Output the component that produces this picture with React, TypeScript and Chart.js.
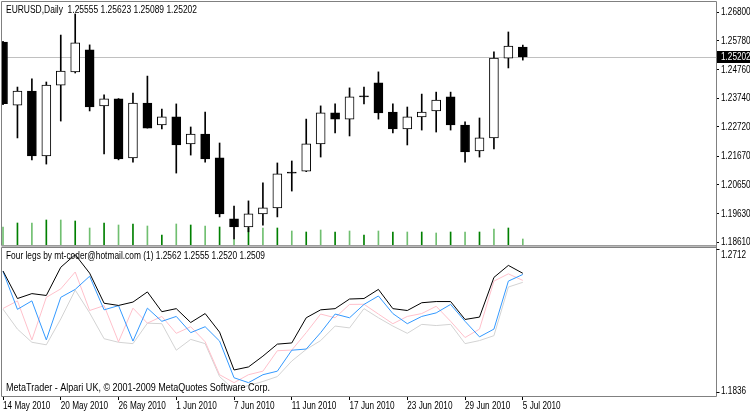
import React, { useEffect, useRef } from 'react';
import { Chart, registerables } from 'chart.js';
Chart.register(...registerables);

// ---------- data ----------
const symbolTitle = 'EURUSD,Daily';
const indicatorTitle = 'Four legs by mt-coder@hotmail.com (1) 1.2562 1.2555 1.2520 1.2509';
const copyrightText = 'MetaTrader - Alpari UK, \u00A9 2001-2009 MetaQuotes Software Corp.';

const dates = [
  '14 May 2010', '17 May 2010', '18 May 2010', '19 May 2010', '20 May 2010', '21 May 2010',
  '24 May 2010', '25 May 2010', '26 May 2010', '27 May 2010', '28 May 2010', '31 May 2010',
  '1 Jun 2010', '2 Jun 2010', '3 Jun 2010', '4 Jun 2010', '7 Jun 2010', '8 Jun 2010',
  '9 Jun 2010', '10 Jun 2010', '11 Jun 2010', '14 Jun 2010', '15 Jun 2010', '16 Jun 2010',
  '17 Jun 2010', '18 Jun 2010', '21 Jun 2010', '22 Jun 2010', '23 Jun 2010', '24 Jun 2010',
  '25 Jun 2010', '28 Jun 2010', '29 Jun 2010', '30 Jun 2010', '1 Jul 2010', '2 Jul 2010',
  '5 Jul 2010',
];

const opens = [
  1.2573, 1.2349, 1.2399, 1.2168, 1.2420, 1.2467, 1.2545, 1.2346, 1.2371, 1.2161,
  1.2356, 1.2278, 1.2307, 1.2211, 1.2246, 1.2161, 1.1944, 1.1915, 1.1962, 1.1983,
  1.2107, 1.2114, 1.2211, 1.2321, 1.2299, 1.2378, 1.2428, 1.2324, 1.2264, 1.2307,
  1.2328, 1.2378, 1.2278, 1.2186, 1.2232, 1.2516, 1.25555,
];
const highs = [
  1.2576, 1.2413, 1.2442, 1.2431, 1.2598, 1.2673, 1.2563, 1.2385, 1.2372, 1.2392,
  1.2452, 1.2335, 1.2353, 1.2271, 1.2324, 1.2214, 1.1990, 1.2008, 1.2072, 1.2143,
  1.2150, 1.2299, 1.2346, 1.2353, 1.2410, 1.2413, 1.2467, 1.2353, 1.2342, 1.2388,
  1.2395, 1.2395, 1.2289, 1.2303, 1.2538, 1.2609, 1.25623,
];
const lows = [
  1.2350, 1.2232, 1.2154, 1.2139, 1.2292, 1.2463, 1.2328, 1.2175, 1.2154, 1.2146,
  1.2267, 1.2264, 1.2107, 1.2171, 1.2146, 1.1951, 1.1873, 1.1898, 1.1922, 1.1951,
  1.2043, 1.2112, 1.2164, 1.2250, 1.2239, 1.2353, 1.2299, 1.2250, 1.2207, 1.2260,
  1.2253, 1.2260, 1.2146, 1.2164, 1.2193, 1.2481, 1.25089,
];
const closes = [
  1.2354, 1.2399, 1.2168, 1.2420, 1.2470, 1.2570, 1.2342, 1.2371, 1.2157, 1.2356,
  1.2267, 1.2307, 1.2207, 1.2246, 1.2157, 1.1962, 1.1915, 1.1962, 1.1983, 1.2104,
  1.2108, 1.2211, 1.2321, 1.2299, 1.2378, 1.2379, 1.2321, 1.2264, 1.2307, 1.2324,
  1.2367, 1.2278, 1.2182, 1.2232, 1.2516, 1.2559, 1.25202,
];
const volumes = [
  18000, 22000, 22000, 25000, 25000, 24000, 17000, 22000, 20000, 21000,
  19000, 10000, 21000, 20000, 19000, 18000, 6000, 17000, 17000, 17000,
  14000, 13000, 15000, 13000, 14000, 10000, 14000, 13000, 13000, 13000,
  12000, 13000, 13000, 13000, 16000, 17000, 6000,
];

const priceTicks = [1.268, 1.2578, 1.2476, 1.2374, 1.2272, 1.2167, 1.2065, 1.1963, 1.1861];
const dateTickIndex = [0, 4, 8, 12, 16, 20, 24, 28, 32, 36];
const lastPrice = 1.25202;
const indicatorMax = 1.2712;
const indicatorMin = 1.1836;

// ---------- view settings ----------
const X_MIN = -0.07;
const X_MAX = 49.38;
const PRICE_MIN = 1.18511;
const PRICE_MAX = 1.27156;
const VOL_MAX = 243000;
const DOJI_EPS = 0.0002;
const TEXT_FONT = "10px 'Liberation Sans', Arial, sans-serif";
const SQUEEZE = 0.82;
const FRAME = '#808080';

function hLine(ctx: CanvasRenderingContext2D, x1: number, x2: number, y: number) {
  ctx.beginPath();
  ctx.moveTo(x1, y);
  ctx.lineTo(x2, y);
  ctx.stroke();
}
function vLine(ctx: CanvasRenderingContext2D, x: number, y1: number, y2: number) {
  ctx.beginPath();
  ctx.moveTo(x, y1);
  ctx.lineTo(x, y2);
  ctx.stroke();
}
// narrow text: draw horizontally squeezed
function narrowText(ctx: CanvasRenderingContext2D, text: string, x: number, y: number) {
  ctx.save();
  ctx.translate(x, y);
  ctx.scale(SQUEEZE, 1);
  ctx.textAlign = 'left';
  ctx.textBaseline = 'middle';
  ctx.fillText(text, 0, 0);
  ctx.restore();
}

const mainDecor = {
  id: 'mainDecor',
  beforeDatasetsDraw(chart: any) {
    const { ctx, chartArea, scales } = chart;
    const y = Math.round(scales.y.getPixelForValue(lastPrice)) + 0.5;
    ctx.save();
    ctx.strokeStyle = '#c0c0c0';
    ctx.lineWidth = 1;
    hLine(ctx, chartArea.left, chartArea.right, y);
    ctx.restore();
  },
  afterDraw(chart: any) {
    const { ctx, chartArea, scales } = chart;
    ctx.save();
    ctx.strokeStyle = FRAME;
    ctx.lineWidth = 1;
    const l = chartArea.left - 0.5, r = chartArea.right + 0.5, t = chartArea.top - 0.5, b = chartArea.bottom + 0.5;
    hLine(ctx, l, r, t);
    vLine(ctx, l, t, b);
    vLine(ctx, r, t, b);
    hLine(ctx, l, r, b);
    // title
    ctx.fillStyle = '#000';
    ctx.font = TEXT_FONT;
    ctx.textBaseline = 'middle';
    ctx.textAlign = 'left';
    const n = opens.length - 1;
    const title = `${symbolTitle}  ${opens[n].toFixed(5)} ${highs[n].toFixed(5)} ${lows[n].toFixed(5)} ${closes[n].toFixed(5)}`;
    ctx.fillText(title, 6, 10, 191);
    // price scale labels
    scales.y.ticks.forEach((t: any) => {
      const py = scales.y.getPixelForValue(t.value);
      narrowText(ctx, Number(t.value).toFixed(5), chartArea.right + 5, py + 0.5);
    });
    // current price box
    const py = Math.round(scales.y.getPixelForValue(lastPrice));
    ctx.fillStyle = '#000';
    ctx.fillRect(chartArea.right + 1, py - 6, 750 - chartArea.right - 1, 12);
    ctx.fillStyle = '#fff';
    narrowText(ctx, lastPrice.toFixed(5), chartArea.right + 5, py + 0.5);
    ctx.restore();
  },
};

const indDecor = {
  id: 'indDecor',
  afterDraw(chart: any) {
    const { ctx, chartArea, scales } = chart;
    ctx.save();
    const l = chartArea.left - 0.5, r = chartArea.right + 0.5, t = chartArea.top - 0.5, b = chartArea.bottom + 0.5;
    // separator band between panes
    ctx.fillStyle = '#b8b8b8';
    ctx.fillRect(l, t - 2, r - l, 2);
    ctx.strokeStyle = FRAME;
    ctx.lineWidth = 1;
    hLine(ctx, l, r, t);
    vLine(ctx, l, t, b);
    vLine(ctx, r, t - 3, b);
    hLine(ctx, l, r, b);
    // side ticks
    ctx.strokeStyle = '#000';
    hLine(ctx, r, r + 3, t + 2);
    hLine(ctx, r, r + 3, b - 4);
    // texts
    ctx.fillStyle = '#000';
    ctx.font = TEXT_FONT;
    ctx.textBaseline = 'middle';
    ctx.textAlign = 'left';
    ctx.fillText(indicatorTitle, 6, 12, 259);
    ctx.fillText(copyrightText, 6, 144, 264);
    narrowText(ctx, indicatorMax.toFixed(4), chartArea.right + 5, 11);
    narrowText(ctx, indicatorMin.toFixed(4), chartArea.right + 5, 147);
    // date labels along the time axis
    scales.x.ticks.forEach((tk: any) => {
      const px = scales.x.getPixelForValue(tk.value);
      const label = dates[Math.round(Number(tk.value))] ?? '';
      narrowText(ctx, label, px, chartArea.bottom + 10);
    });
    ctx.restore();
  },
};

export default function App() {
  const mainRef = useRef<HTMLCanvasElement>(null);
  const indRef = useRef<HTMLCanvasElement>(null);

  useEffect(() => {
    const idx = dates.map((_, i) => i);

    const mainChart = new Chart(mainRef.current as HTMLCanvasElement, {
      type: 'bar',
      data: {
        datasets: [
          {
            label: 'Volume',
            data: idx.map((i) => ({ x: i, y: volumes[i] })) as any,
            yAxisID: 'yv',
            backgroundColor: idx.map((i) => (i % 2 === 0 ? '#70bf70' : '#008000')),
            barThickness: 1,
            grouped: false,
            order: 5,
          },
          {
            label: 'Wick',
            data: idx.map((i) => ({ x: i, y: [lows[i], highs[i]] })) as any,
            yAxisID: 'y',
            backgroundColor: '#000',
            barThickness: 1,
            grouped: false,
            order: 4,
          },
          {
            label: 'Body',
            data: idx.map((i) => ({
              x: i,
              y: [Math.min(opens[i], closes[i]), Math.max(opens[i], closes[i])],
            })) as any,
            yAxisID: 'y',
            backgroundColor: idx.map((i) =>
              closes[i] >= opens[i] && Math.abs(closes[i] - opens[i]) > DOJI_EPS ? '#ffffff' : '#000000'
            ),
            borderColor: '#000',
            borderWidth: 1,
            borderSkipped: false,
            barThickness: 9,
            minBarLength: 1,
            grouped: false,
            order: 3,
          },
        ],
      },
      options: {
        responsive: false,
        animation: false,
        devicePixelRatio: 1,
        events: [],
        layout: { padding: { left: 2, top: 2, right: 0, bottom: 5 } },
        plugins: { legend: { display: false }, tooltip: { enabled: false } },
        scales: {
          x: {
            type: 'linear',
            min: X_MIN,
            max: X_MAX,
            offset: false,
            display: false,
            grid: { offset: false },
          },
          y: {
            position: 'right',
            min: PRICE_MIN,
            max: PRICE_MAX,
            afterBuildTicks: (s: any) => {
              s.ticks = priceTicks.map((v) => ({ value: v }));
            },
            afterFit: (s: any) => {
              s.width = 34;
              s.paddingTop = 0;
              s.paddingBottom = 0;
            },
            ticks: {
              autoSkip: false,
              padding: 2,
              color: '#000',
              font: { size: 10 },
              callback: () => '',
            },
            grid: { drawOnChartArea: false, drawTicks: true, tickLength: 3, color: '#000' },
            border: { display: false },
          },
          yv: { display: false, min: 0, max: VOL_MAX },
        },
      } as any,
      plugins: [mainDecor],
    });

    const lineDs = (label: string, values: number[], color: string) => ({
      label,
      data: idx.map((i) => ({ x: i, y: values[i] })),
      borderColor: color,
      borderWidth: 1,
      pointRadius: 0,
      tension: 0,
      fill: false,
    });

    const indChart = new Chart(indRef.current as HTMLCanvasElement, {
      type: 'line',
      data: {
        datasets: [
          lineDs('High', highs, '#000000'),
          lineDs('Open', opens, '#3399ff'),
          lineDs('Close', closes, '#ffc0cb'),
          lineDs('Low', lows, '#d3d3d3'),
        ] as any,
      },
      options: {
        responsive: false,
        animation: false,
        devicePixelRatio: 1,
        events: [],
        layout: { padding: { left: 2, top: 4, right: 0, bottom: 0 } },
        plugins: { legend: { display: false }, tooltip: { enabled: false } },
        scales: {
          x: {
            type: 'linear',
            min: X_MIN,
            max: X_MAX,
            offset: false,
            position: 'bottom',
            afterBuildTicks: (s: any) => {
              s.ticks = dateTickIndex.map((v) => ({ value: v }));
            },
            afterFit: (s: any) => {
              s.height = 16;
              s.paddingLeft = 0;
              s.paddingRight = 0;
            },
            ticks: {
              autoSkip: false,
              maxRotation: 0,
              minRotation: 0,
              padding: 0,
              font: { size: 10 },
              callback: () => '',
            },
            grid: { drawOnChartArea: false, drawTicks: true, tickLength: 4, color: '#000' },
            border: { display: false },
          },
          y: {
            position: 'right',
            min: indicatorMin,
            max: indicatorMax,
            afterFit: (s: any) => {
              s.width = 34;
              s.paddingTop = 0;
              s.paddingBottom = 0;
            },
            ticks: { display: false },
            grid: { display: false },
            border: { display: false },
          },
        },
      } as any,
      plugins: [indDecor],
    });

    return () => {
      mainChart.destroy();
      indChart.destroy();
    };
  }, []);

  return (
    <div style={{ position: 'fixed', left: 0, top: 0, width: 750, height: 412, background: '#fff' }}>
      <canvas
        ref={mainRef}
        width={750}
        height={250}
        style={{ position: 'absolute', left: 0, top: 0, width: 750, height: 250 }}
      />
      <canvas
        ref={indRef}
        width={750}
        height={168}
        style={{ position: 'absolute', left: 0, top: 244, width: 750, height: 168 }}
      />
    </div>
  );
}
